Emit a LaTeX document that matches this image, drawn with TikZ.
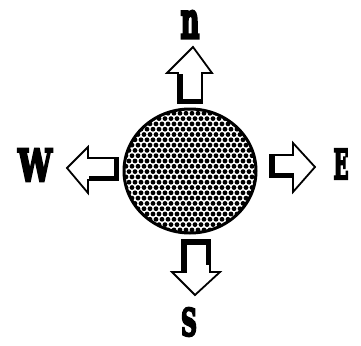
\documentclass[tikz,border=0pt]{standalone}
\usepackage{fontspec}
\setmainfont{DejaVu Serif}
\newfontfamily\heavy{DejaVu Serif}[FakeBold=6]
\usetikzlibrary{calc}

\begin{document}
\begin{tikzpicture}[
  x=1pt, y=-1pt,
  blk/.style={draw, line width=1.8pt, line join=miter, fill=white},
  shd/.style={line width=5pt, line cap=rect, line join=miter},
  dot/.style={fill=black},
  lbl/.style={inner sep=0pt, font=\heavy\bfseries}
]
\useasboundingbox (0,0) rectangle (361,345);
% globe with dotted fill
\begin{scope}
  \clip (190,171) ellipse (66 and 62);
  \foreach \r in {0,...,24}{
    \foreach \c in {0,...,23}{
      \fill[dot] ({123+\c*6+mod(\r,2)*3},{108+\r*5.3}) circle (2.4);
    }
  }
\end{scope}
\draw[line width=3pt] (190,171) ellipse (66 and 62);
% north
\draw[blk] (193,47) -- (212,73) -- (202,73) -- (202,103) -- (178,103)
  -- (178,73) -- (167,73) -- cycle;
\draw[shd] (180,76) -- (180,101) -- (200,101);
% south
\draw[blk] (195,295) -- (172,272) -- (182,272) -- (182,240) -- (210,240)
  -- (210,272) -- (220,272) -- cycle;
\draw[shd] (184,270) -- (184,242) -- (208,242) -- (208,262);
% west
\draw[blk] (67,168) -- (88,147) -- (88,158) -- (118,158) -- (118,180)
  -- (88,180) -- (88,193) -- cycle;
\draw[shd] (91,178) -- (116,178) -- (116,160);
% east
\draw[blk] (315,167) -- (293,143) -- (293,155) -- (270,155) -- (270,177)
  -- (293,177) -- (293,192) -- cycle;
\draw[shd] (291,175) -- (272,175) -- (272,157);
% letters
\node[lbl] (n) at (190,24.5) {\resizebox{19pt}{27pt}{n}};
\node[lbl] (w) at (35,165) {\resizebox{34pt}{32pt}{W}};
\node[lbl] (e) at (341,164) {\resizebox{15pt}{30pt}{E}};
\node[lbl] (s) at (189,322) {\resizebox{16pt}{28pt}{S}};
\end{tikzpicture}
\end{document}
